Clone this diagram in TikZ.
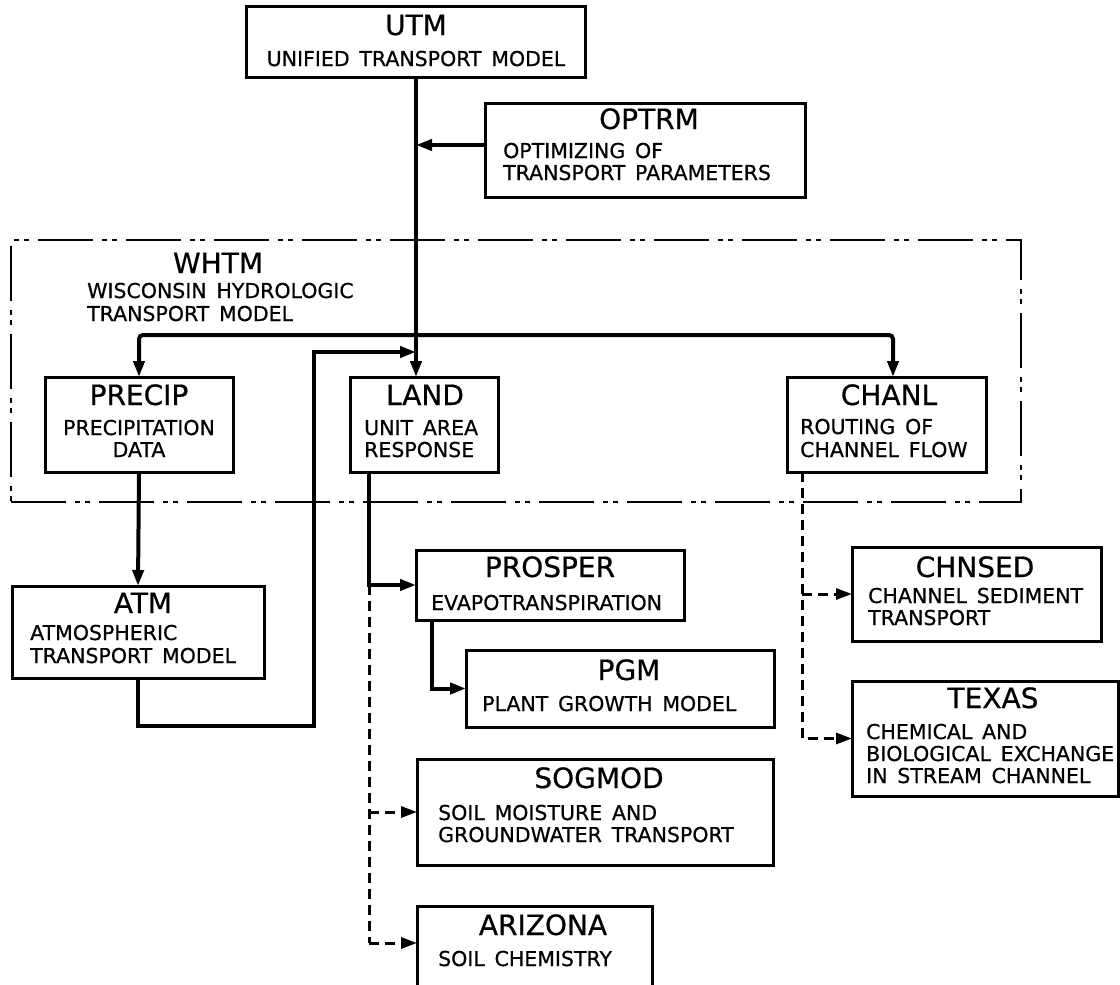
\documentclass[tikz,border=0pt]{standalone}
\usepackage{fontspec}
\setmainfont{DejaVu Sans}[WordSpace=1.5,FakeBold=0.6]
\usetikzlibrary{arrows.meta}
\begin{document}
\begin{tikzpicture}[x=1pt,y={(0pt,-1pt)},
  box/.style={draw, line width=3pt, inner sep=0pt, outer sep=0pt},
  zone/.style={draw, line width=2pt, inner sep=0pt, outer sep=0pt,
    dash pattern=on 55pt off 9pt on 5pt off 5pt on 5pt off 9pt},
  ttl/.style={anchor=base, inner sep=0pt, font=\fontsize{28}{30}\selectfont},
  txt/.style={anchor=base west, inner sep=0pt, font=\fontsize{20.5}{24}\selectfont},
  txtc/.style={txt, anchor=base},
  conn/.style={line width=4pt},
  arr/.style={-{Triangle[length=16pt,width=11pt]}},
  dconn/.style={line width=3pt, dash pattern=on 10pt off 6pt},
]
\useasboundingbox (0,0) rectangle (1120,985);
\fill[white] (0,0) rectangle (1120,985);
\clip (0,0) rectangle (1120,985);

% boxes
\node[box, minimum width=339pt, minimum height=71pt] (utm) at (416,41.5) {};
\node[box, minimum width=320pt, minimum height=94pt] (optrm) at (645,150) {};
\node[zone, minimum width=1010pt, minimum height=262pt] (whtm) at (516,371) {};
\node[box, minimum width=188pt, minimum height=95pt] (precip) at (139,424.5) {};
\node[box, minimum width=148pt, minimum height=95pt] (land) at (424,424.5) {};
\node[box, minimum width=199pt, minimum height=95pt] (chanl) at (886.5,424.5) {};
\node[box, minimum width=252pt, minimum height=92pt] (atm) at (138,632) {};
\node[box, minimum width=268pt, minimum height=70pt] (prosper) at (550,585) {};
\node[box, minimum width=308pt, minimum height=77pt] (pgm) at (620,688.5) {};
\node[box, minimum width=356pt, minimum height=106pt] (sogmod) at (595,812) {};
\node[box, minimum width=235pt, minimum height=100pt] (arizona) at (534.5,956) {};
\node[box, minimum width=249pt, minimum height=94pt] (chnsed) at (976.5,594) {};
\node[box, minimum width=266pt, minimum height=115pt] (texas) at (985,738.5) {};

% texts
\node[ttl] (utm-t) at (416,35) {UTM};
\node[txtc] (utm-s) at (416,66) {UNIFIED TRANSPORT MODEL};
\node[ttl] (optrm-t) at (649,129) {OPTRM};
\node[txt] (optrm-1) at (503,158) {OPTIMIZING OF};
\node[txt] (optrm-2) at (503,180) {TRANSPORT PARAMETERS};
\node[ttl] (whtm-t) at (218,273) {WHTM};
\node[txt] (whtm-1) at (87,298) {WISCONSIN HYDROLOGIC};
\node[txt] (whtm-2) at (87,321) {TRANSPORT MODEL};
\node[ttl] (precip-t) at (139,405) {PRECIP};
\node[txtc] (precip-1) at (139,435) {PRECIPITATION};
\node[txtc] (precip-2) at (139,457) {DATA};
\node[ttl] (land-t) at (425,405) {LAND};
\node[txt] (land-1) at (364,435) {UNIT AREA};
\node[txt] (land-2) at (364,457) {RESPONSE};
\node[ttl] (chanl-t) at (889,405) {CHANL};
\node[txt] (chanl-1) at (800,434) {ROUTING OF};
\node[txt] (chanl-2) at (800,457) {CHANNEL FLOW};
\node[ttl] (atm-t) at (143,613) {ATM};
\node[txt] (atm-1) at (30,640) {ATMOSPHERIC};
\node[txt] (atm-2) at (30,663) {TRANSPORT MODEL};
\node[ttl] (prosper-t) at (550,577) {PROSPER};
\node[txt] (prosper-1) at (431,610) {EVAPOTRANSPIRATION};
\node[ttl] (pgm-t) at (629,680) {PGM};
\node[txt] (pgm-1) at (482,711) {PLANT GROWTH MODEL};
\node[ttl] (sogmod-t) at (599,788) {SOGMOD};
\node[txt] (sogmod-1) at (438,820) {SOIL MOISTURE AND};
\node[txt] (sogmod-2) at (438,842) {GROUNDWATER TRANSPORT};
\node[ttl] (arizona-t) at (543,935) {ARIZONA};
\node[txt] (arizona-1) at (438,966) {SOIL CHEMISTRY};
\node[ttl] (chnsed-t) at (975,577) {CHNSED};
\node[txt] (chnsed-1) at (868,603) {CHANNEL SEDIMENT};
\node[txt] (chnsed-2) at (868,625) {TRANSPORT};
\node[ttl] (texas-t) at (993,708) {TEXAS};
\node[txt] (texas-1) at (866,739) {CHEMICAL AND};
\node[txt] (texas-2) at (866,761) {BIOLOGICAL EXCHANGE};
\node[txt] (texas-3) at (866,783) {IN STREAM CHANNEL};

% helper coordinates
\coordinate (mx) at (416,0);
\coordinate (oin) at (416,145);
\coordinate (brj) at (416,335);
\coordinate (chin) at (893,377);
\coordinate (lpb) at (314,726);
\coordinate (lp) at (314,352);
\coordinate (lpin) at (416,352);
\coordinate (lx) at (369,0);
\coordinate (px) at (432,0);
\coordinate (cx) at (802,0);

% solid connectors
\draw[conn,arr] (utm.south -| mx) -- (land.north -| mx);
\draw[conn,arr] (oin -| optrm.west) -- (oin);
\draw[conn,arr,rounded corners=4pt] (brj) -| (precip.north);
\draw[conn,arr,rounded corners=4pt] (brj) -| (chin);
\draw[conn,arr] (precip.south) -- (atm.north);
\draw[conn,arr] (atm.south) -- (atm.south |- lpb) -| (lp) -- (lpin);
\draw[conn,arr] (land.south -| lx) |- (prosper.west);
\draw[conn,arr] (prosper.south -| px) |- (pgm.west);

% dashed connectors
\draw[dconn] (prosper.west -| lx) -- (lx |- 0,943);
\draw[dconn,arr] (sogmod.west -| lx) -- (sogmod.west);
\draw[dconn,arr] (lx |- 0,943) -- ([yshift=-37pt]arizona.north west);
\draw[dconn,arr] (chanl.south -| cx) |- (texas.west);
\draw[dconn,arr] (chnsed.west -| cx) -- (chnsed.west);
\end{tikzpicture}
\end{document}
